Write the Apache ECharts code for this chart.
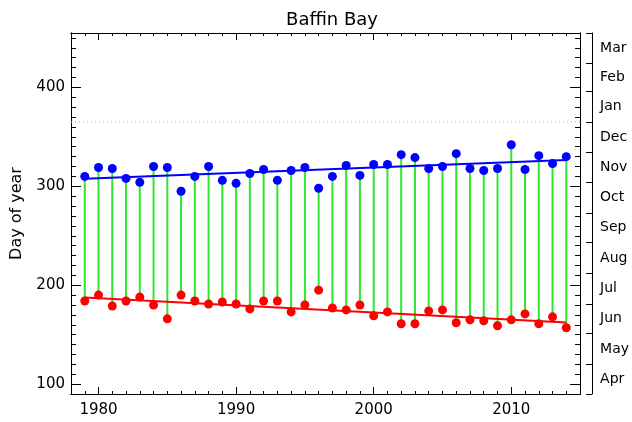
<!DOCTYPE html>
<html>
<head>
<meta charset="utf-8">
<script src="https://cdn.jsdelivr.net/npm/echarts@6/dist/echarts.min.js"></script>
<style>
html,body{margin:0;padding:0;background:#fff;}
#chart{width:632px;height:422px;}
</style>
</head>
<body>
<div id="chart"></div>
<script>
var years = [1979,1980,1981,1982,1983,1984,1985,1986,1987,1988,1989,1990,1991,1992,1993,1994,1995,1996,1997,1998,1999,2000,2001,2002,2003,2004,2005,2006,2007,2008,2009,2010,2011,2012,2013,2014];
var freezeDay = [310,319,318,308,304,320,319,295,310,320,306,303,313,317,306,316,319,298,310,321,311,322,322,332,329,318,320,333,318,316,318,342,317,331,323,330];
var meltDay = [184,190,179,184,188,180,166,190,184,181,183,181,176,184,184,173,180,195,177,175,180,169,173,161,161,174,175,162,165,164,159,165,171,161,168,157];
var yearLabels = [1980,1990,2000,2010];
var dayLabels = [100,200,300,400];
var monthNames = ['Apr','May','Jun','Jul','Aug','Sep','Oct','Nov','Dec','Jan','Feb','Mar'];
var monthBounds = [90,120,151,181,212,243,273,304,334,365,396,424,455];
var yearEndDay = 365;

function fit(xs, ys) {
  var n = xs.length, mx = 0, my = 0;
  for (var i = 0; i < n; i++) { mx += xs[i]; my += ys[i]; }
  mx /= n; my /= n;
  var sxy = 0, sxx = 0;
  for (var j = 0; j < n; j++) { sxy += (xs[j]-mx)*(ys[j]-my); sxx += (xs[j]-mx)*(xs[j]-mx); }
  var b = sxy / sxx;
  return function (x) { return my + b * (x - mx); };
}
var fF = fit(years, freezeDay), fM = fit(years, meltDay);
var x0 = years[0], x1 = years[years.length-1];

var minorYears = [];
for (var y = 1979; y <= 2014; y++) if (yearLabels.indexOf(y) < 0) minorYears.push(y);
var minorDays = [];
for (var d = 100; d <= 450; d += 10) if (dayLabels.indexOf(d) < 0) minorDays.push(d);
var monthMids = [];
for (var k = 0; k < monthNames.length; k++) monthMids.push((monthBounds[k] + monthBounds[k+1]) / 2);

var FONT = 'DejaVu Sans';
var axisLineStyle = {show: true, lineStyle: {color: '#000', width: 1}};
function plain(v) { return String(v); }
function xAx(pos, ticks, len, labels) {
  return {
    type: 'value', min: 1978, max: 2015, position: pos, gridIndex: 0,
    axisLine: axisLineStyle,
    splitLine: {show: false},
    axisTick: {show: true, inside: true, length: len, customValues: ticks, lineStyle: {color: '#000'}},
    axisLabel: labels ? {show: true, customValues: ticks, formatter: plain, fontFamily: FONT, fontSize: 15, color: '#000', margin: 9} : {show: false}
  };
}
function yAx(pos, ticks, len, labels) {
  return {
    type: 'value', min: 90, max: 455, position: pos, gridIndex: 0,
    axisLine: axisLineStyle,
    splitLine: {show: false},
    axisTick: {show: true, inside: true, length: len, customValues: ticks, lineStyle: {color: '#000'}},
    axisLabel: labels ? {show: true, customValues: ticks, formatter: plain, fontFamily: FONT, fontSize: 15, color: '#000', margin: 6} : {show: false}
  };
}
var yLeft = yAx('left', dayLabels, 10, true);
yLeft.name = 'Day of year';
yLeft.nameLocation = 'middle';
yLeft.nameGap = 46;
yLeft.nameTextStyle = {fontFamily: FONT, fontSize: 16, color: '#000'};

var monthAxis = {
  type: 'value', min: 90, max: 455, position: 'right', offset: 12, gridIndex: 0,
  axisLine: axisLineStyle,
  splitLine: {show: false},
  axisTick: {show: true, inside: true, length: 6, customValues: monthBounds, lineStyle: {color: '#000'}},
  axisLabel: {show: true, customValues: monthMids, fontFamily: FONT, fontSize: 14, color: '#000', margin: 8,
    formatter: function (v) { var i = monthMids.indexOf(v); return i >= 0 ? monthNames[i] : ''; }}
};

var segData = years.map(function (yr, i) { return [yr, meltDay[i], freezeDay[i]]; });

var option = {
  animation: false,
  backgroundColor: '#fff',
  title: {text: 'Baffin Bay', left: 327, top: 6, textAlign: 'center',
    textStyle: {fontFamily: FONT, fontSize: 18, fontWeight: 'normal', color: '#000'}},
  grid: {left: 71, right: 49, top: 33, bottom: 28, containLabel: false},
  xAxis: [xAx('bottom', yearLabels, 7, true), xAx('bottom', minorYears, 3, false), xAx('top', yearLabels, 7, false), xAx('top', minorYears, 3, false)],
  yAxis: [yLeft, yAx('left', minorDays, 5, false), yAx('right', dayLabels, 10, false), yAx('right', minorDays, 5, false), monthAxis],
  series: [
    {type: 'line', xAxisIndex: 0, yAxisIndex: 0, data: [[1978, yearEndDay], [2015, yearEndDay]], symbol: 'none',
      lineStyle: {color: '#b0b0b0', width: 1, type: [1, 3]}, z: 1, silent: true},
    {type: 'custom', xAxisIndex: 0, yAxisIndex: 0, data: segData, z: 2,
      renderItem: function (params, api) {
        var a = api.coord([api.value(0), api.value(1)]);
        var b = api.coord([api.value(0), api.value(2)]);
        return {type: 'line', shape: {x1: a[0], y1: a[1], x2: b[0], y2: b[1]}, style: {stroke: '#2fe62f', lineWidth: 2}};
      }},
    {type: 'line', xAxisIndex: 0, yAxisIndex: 0, data: [[x0, fF(x0)], [x1, fF(x1)]], symbol: 'none',
      lineStyle: {color: '#0000ff', width: 2}, z: 3},
    {type: 'line', xAxisIndex: 0, yAxisIndex: 0, data: [[x0, fM(x0)], [x1, fM(x1)]], symbol: 'none',
      lineStyle: {color: '#ff0000', width: 2}, z: 3},
    {type: 'scatter', xAxisIndex: 0, yAxisIndex: 0, data: years.map(function (yr, i) { return [yr, freezeDay[i]]; }),
      symbol: 'circle', symbolSize: 9, itemStyle: {color: '#0000ff', opacity: 1}, z: 4},
    {type: 'scatter', xAxisIndex: 0, yAxisIndex: 0, data: years.map(function (yr, i) { return [yr, meltDay[i]]; }),
      symbol: 'circle', symbolSize: 9, itemStyle: {color: '#ff0000', opacity: 1}, z: 4}
  ]
};
var chart = echarts.init(document.getElementById('chart'), null, {renderer: 'canvas'});
chart.setOption(option);
</script>
</body>
</html>
